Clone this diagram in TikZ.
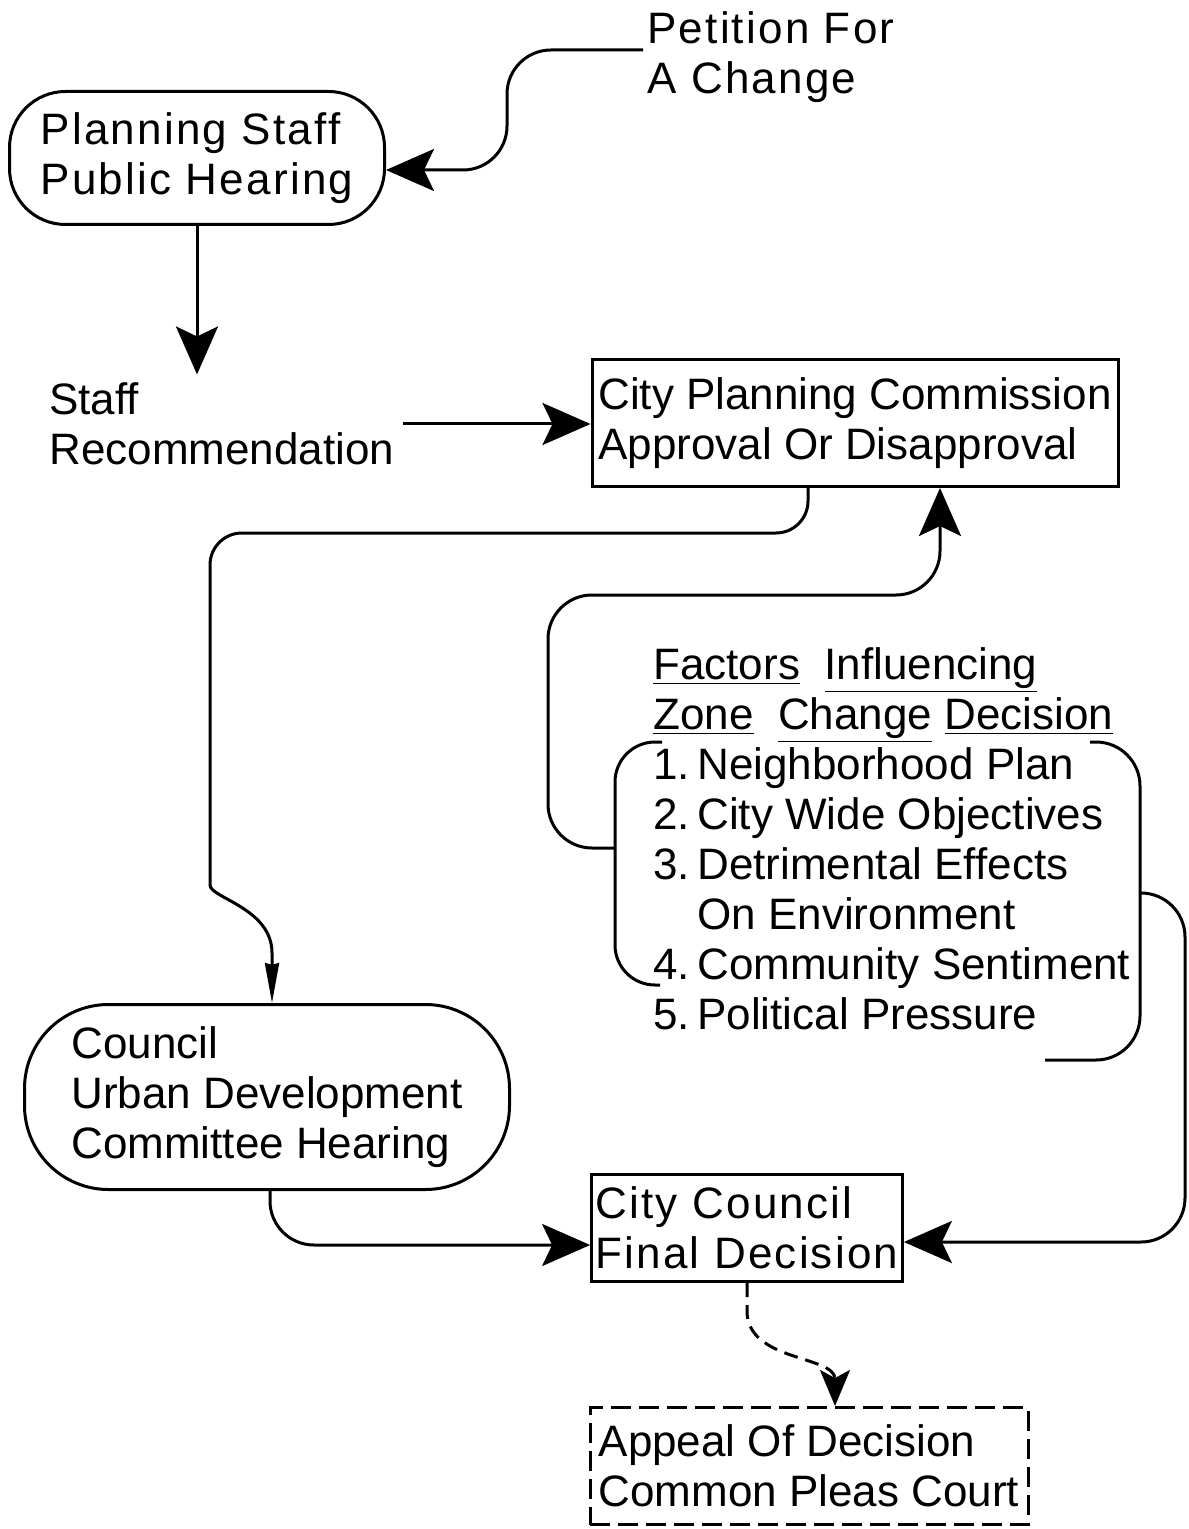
\documentclass[tikz,border=0pt]{standalone}
\usepackage{fontspec}
\setmainfont{Liberation Sans}
\newfontfamily\widefont[LetterSpace=5]{Liberation Sans}
\usepackage{tikz}
\usetikzlibrary{arrows.meta,positioning,calc}

\begin{document}
\begin{tikzpicture}[
  x=0.5pt, y=-0.5pt,
  txt/.style={font=\fontsize{22}{25}\selectfont, align=left, inner sep=2pt},
  wtxt/.style={font=\widefont\fontsize{22}{25}\selectfont, align=left, inner sep=2pt},
  box/.style={draw, line width=1.5pt},
  pill/.style={box, rounded corners=28pt},
  ln/.style={line width=1.5pt},
  arr/.style={-{Stealth[length=24pt, width=21pt, inset=5pt]}, line width=1.5pt},
  thin arr/.style={-{Stealth[length=20pt, width=7pt, inset=1pt]}, line width=1.5pt},
  dashed arr/.style={-{Stealth[length=18pt, width=15pt, inset=4pt]}, line width=1.5pt,
                     dash pattern=on 7pt off 4pt}
]
\useasboundingbox (0,0) rectangle (1188,1529);

\node[wtxt, anchor=west] (pet) at (643,57) {Petition For\\A Change};
\node[wtxt, pill, minimum width=187.5pt, minimum height=66.5pt] (ps) at (197,158)
  {Planning Staff\\Public Hearing};
\node[txt, anchor=west, inner sep=4pt] (rec) at (41,424) {Staff\\Recommendation};
\node[txt, box, minimum width=263pt, minimum height=63.5pt] (cpc) at (855,423)
  {City Planning Commission\\Approval Or Disapproval};
\node[txt, anchor=west, inner sep=0pt] (fac) at (653,839)
  {\underline{Factors}\ \ \underline{Influencing}\\
   \underline{Zone}\ \ \underline{Change} \underline{Decision}\\
   1.\,Neighborhood Plan\\
   2.\,City Wide Objectives\\
   3.\,Detrimental Effects\\
   \phantom{3.\,}On Environment\\
   4.\,Community Sentiment\\
   5.\,Political Pressure};
\node[txt, pill, rounded corners=42pt, minimum width=242.5pt, minimum height=92.5pt] (cudc)
  at (267,1097) {Council\\Urban Development\\Committee Hearing};
\node[wtxt, box, minimum width=155pt, minimum height=53.5pt] (cc) at (747,1228)
  {City Council\\Final Decision};
\node[txt, box, dash pattern=on 10pt off 4pt, minimum width=219pt, minimum height=58.5pt]
  (app) at (809,1466) {Appeal Of Decision\\Common Pleas Court};

% brackets round the factors list
\draw[ln, rounded corners=20pt] (662,742) -- (615,742) -- (615,985) -- (660,985);
\draw[ln, rounded corners=22pt] (1090,742) -- (1140,742) -- (1140,1060) -- (1045,1060);
\coordinate (fl) at (615,848);
\coordinate (fr) at (1140,893);

\draw[arr, rounded corners=22pt] ([yshift=3.5pt]pet.west) -- ++(-136,0) |- ([yshift=-6pt]ps.east);
\draw[arr] (ps.south) -- (ps.south |- rec.north);
\draw[arr] (rec.east) -- (rec.east -| cpc.west);
\draw[thin arr, rounded corners=16pt] ([xshift=-23.5pt]cpc.south) |- ++(-598,45)
  -- ++(0,320) [sharp corners] .. controls +(0,45) and +(0,-45) .. ++(62,100)
  -- ([xshift=2.5pt]cudc.north);
\draw[arr, rounded corners=22pt] (fl) -- ++(-67,0) -- ++(0,-253) -| ([xshift=42.5pt]cpc.south);
\draw[arr, rounded corners=22pt] (fr) -- ++(45,0) |- ([yshift=-7pt]cc.east);
\draw[arr, rounded corners=22pt] ([xshift=1.5pt]cudc.south) |- ([yshift=-8.5pt]cc.west);
\draw[dashed arr] (cc.south) -- ++(0,28) to[out=-90, in=90] ([xshift=13pt]app.north);

\end{tikzpicture}
\end{document}
